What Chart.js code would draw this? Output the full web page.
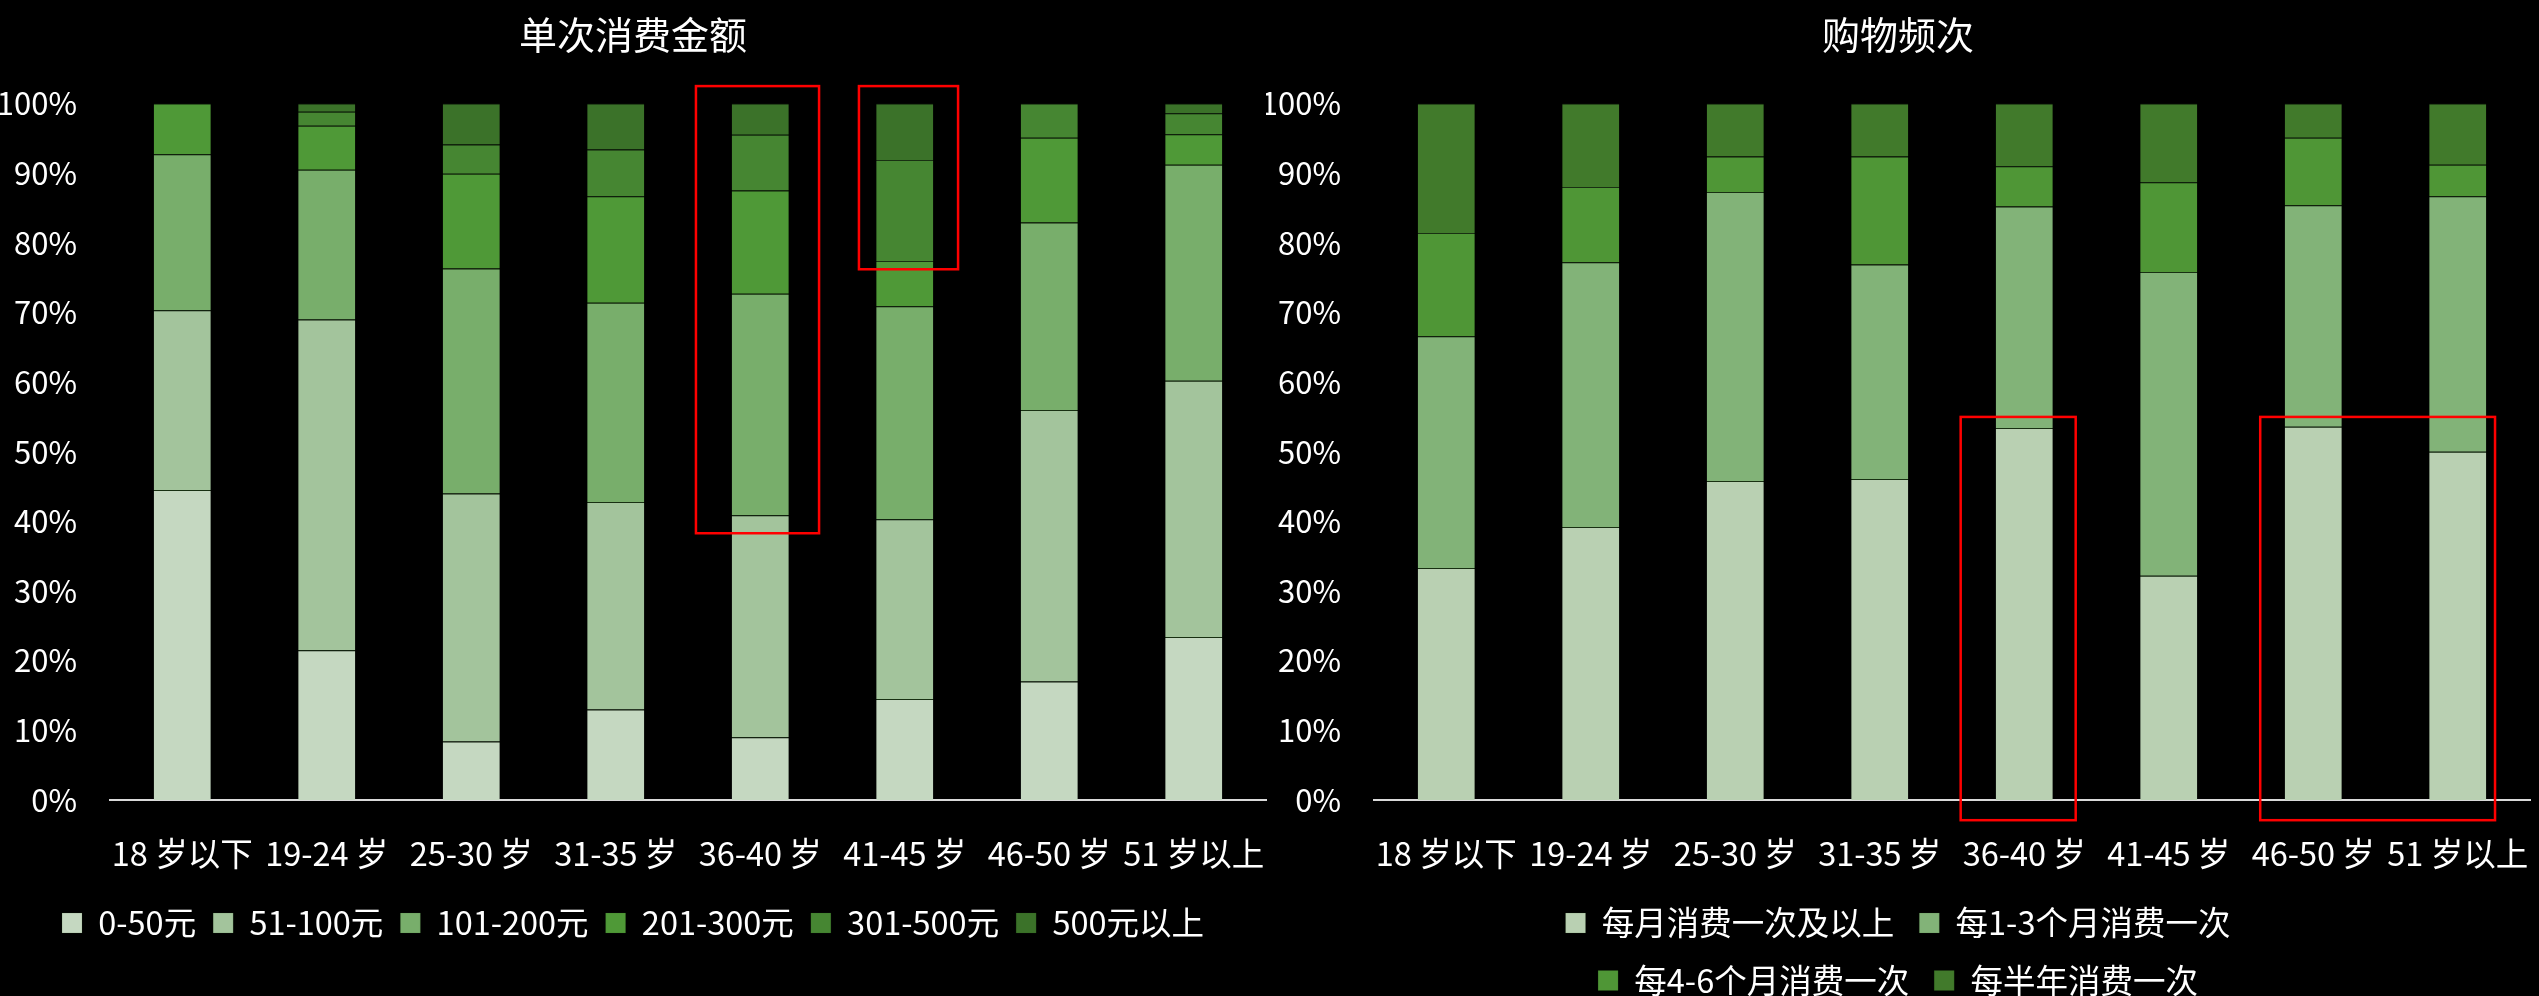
<!DOCTYPE html>
<html lang="zh-CN">
<head>
<meta charset="utf-8">
<title>单次消费金额 / 购物频次</title>
<script src="https://cdn.jsdelivr.net/npm/chart.js@4.4.1/dist/chart.umd.min.js"></script>
<style>
  html, body { margin: 0; background: #000; overflow: hidden; }
  canvas { position: absolute; top: 0; }
  #amountChart { left: 0; }
  #frequencyChart { left: 1266px; }
</style>
</head>
<body>
<canvas id="amountChart" width="1268" height="996"></canvas>
<canvas id="frequencyChart" width="1273" height="1010"></canvas>
<script>
const ageGroups = ["18 岁以下", "19-24 岁", "25-30 岁", "31-35 岁", "36-40 岁", "41-45 岁", "46-50 岁", "51 岁以上"]

// 单次消费金额, share of each age group (%)
const amountLabels = ["0-50元", "51-100元", "101-200元", "201-300元", "301-500元", "500元以上"]
const amount0to50 = [44.5, 21.5, 8.4, 13.0, 9.0, 14.5, 17.0, 23.4]
const amount51to100 = [25.8, 47.5, 35.6, 29.8, 31.9, 25.8, 39.0, 36.8]
const amount101to200 = [22.4, 21.5, 32.3, 28.6, 31.8, 30.6, 26.9, 31.0]
const amount201to300 = [7.3, 6.3, 13.6, 15.3, 14.8, 6.5, 12.2, 4.4]
const amount301to500 = [0, 2.0, 4.2, 6.7, 8.0, 14.5, 4.9, 3.0]
const amountOver500 = [0, 1.2, 5.9, 6.6, 4.5, 8.1, 0, 1.4]

// 购物频次, share of each age group (%)
const frequencyLabels = ["每月消费一次及以上", "每1-3个月消费一次", "每4-6个月消费一次", "每半年消费一次"]
const freqMonthly = [33.3, 39.2, 45.8, 46.1, 53.4, 32.2, 53.6, 50.0]
const freq1to3Months = [33.3, 38.0, 41.5, 30.8, 31.8, 43.6, 31.8, 36.7]
const freq4to6Months = [14.8, 10.8, 5.1, 15.5, 5.8, 12.9, 9.7, 4.5]
const freqHalfYear = [18.6, 12.0, 7.6, 7.6, 9.0, 11.3, 4.9, 8.8]

const percentTicks = [0, 10, 20, 30, 40, 50, 60, 70, 80, 90, 100]

const amountColors = ["#c5d8c1", "#a3c49c", "#78ae6b", "#4f9937", "#468632", "#3b7229"]
const frequencyColors = ["#b9d0b2", "#82b378", "#4f9636", "#417a2b"]

Chart.defaults.font.family = "'Noto Sans CJK SC', 'Noto Sans', sans-serif"
Chart.defaults.font.size = 31
Chart.defaults.color = "#ffffff"

// red outlines drawn over the bars, placed in category / value units
const highlightBoxes = {
  id: "highlightBoxes",
  afterDatasetsDraw(chart, args, opts) {
    const { ctx, scales: { x, y } } = chart
    const step = x.getPixelForValue(1) - x.getPixelForValue(0)
    ctx.save()
    ctx.strokeStyle = opts.color
    ctx.lineWidth = opts.lineWidth
    opts.boxes.forEach((b) => {
      const left = x.getPixelForValue(b.from) + b.inset[0] * step
      const right = x.getPixelForValue(b.to) + b.inset[1] * step
      const top = y.getPixelForValue(b.top)
      const bottom = y.getPixelForValue(b.bottom)
      ctx.strokeRect(left, top, right - left, bottom - top)
    })
    ctx.restore()
  },
}

// Excel wraps the frequency legend into two rows, Chart.js would keep one,
// so the legend is told it has less room than the canvas gives it
const narrowLegend = {
  id: "narrowLegend",
  beforeLayout(chart, args, opts) {
    const legend = chart.legend
    if (!legend || legend.narrowed) return
    const update = legend.update
    legend.update = function (w, h, m) {
      return update.call(this, Math.min(w, opts.maxWidth), h, m)
    }
    legend.narrowed = true
  },
}

function makeDatasets(labels, series, colors) {
  return series.map((data, i) => ({
    label: labels[i],
    data,
    backgroundColor: colors[i],
    borderColor: "rgba(40, 80, 30, 0.6)",
    borderWidth: { top: 1, right: 0, bottom: 0, left: 0 },
    borderSkipped: false,
    barPercentage: 0.395,
    categoryPercentage: 1,
  }))
}

function makeOptions({ title, yWidth, xHeight, padding, legendPadding, boxes, legendWidth }) {
  return {
    responsive: false,
    animation: false,
    events: [],
    layout: { padding },
    plugins: {
      title: {
        display: true,
        text: title,
        color: "#ffffff",
        font: { size: 38, weight: "normal" },
        padding: { top: 11.4, bottom: 46.5 },
      },
      legend: {
        position: "bottom",
        labels: {
          color: "#ffffff",
          boxWidth: 20,
          boxHeight: 20,
          padding: legendPadding,
          font: { size: 32.5 },
        },
      },
      tooltip: { enabled: false },
      highlightBoxes: { color: "#ff0000", lineWidth: 2.5, boxes },
      narrowLegend: { maxWidth: legendWidth },
    },
    scales: {
      x: {
        stacked: true,
        // invisible tick marks push the labels down without widening the axis padding
        grid: { display: true, drawOnChartArea: false, drawTicks: true, tickLength: 34, color: "rgba(0, 0, 0, 0)" },
        border: { display: true, color: "#d9d9d9", width: 2 },
        ticks: { color: "#ffffff", padding: 0, maxRotation: 0, autoSkip: false, font: { size: 32.5 } },
        afterFit: (axis) => { axis.height = xHeight },
      },
      y: {
        stacked: true,
        min: 0,
        max: 100,
        grid: { display: false, drawTicks: false },
        border: { display: false },
        afterBuildTicks: (axis) => { axis.ticks = percentTicks.map((value) => ({ value })) },
        ticks: { color: "#ffffff", padding: 33, callback: (value) => value + "%" },
        afterFit: (axis) => { axis.width = yWidth },
      },
    },
  }
}

new Chart(document.getElementById("amountChart"), {
  type: "bar",
  data: {
    labels: ageGroups,
    datasets: makeDatasets(
      amountLabels,
      [amount0to50, amount51to100, amount101to200, amount201to300, amount301to500, amountOver500],
      amountColors
    ),
  },
  options: makeOptions({
    title: "单次消费金额",
    yWidth: 110,
    xHeight: 89.75,
    padding: { top: 0, right: 2, bottom: 46.75, left: 0 },
    legendPadding: 17,
    legendWidth: 2000,
    boxes: [
      { from: 4, to: 4, inset: [-0.445, 0.407], top: 102.5, bottom: 38.3 },
      { from: 5, to: 5, inset: [-0.317, 0.369], top: 102.5, bottom: 76.2 },
    ],
  }),
  plugins: [highlightBoxes],
})

new Chart(document.getElementById("frequencyChart"), {
  type: "bar",
  data: {
    labels: ageGroups,
    datasets: makeDatasets(
      frequencyLabels,
      [freqMonthly, freq1to3Months, freq4to6Months, freqHalfYear],
      frequencyColors
    ),
  },
  options: makeOptions({
    title: "购物频次",
    yWidth: 108,
    xHeight: 81.75,
    padding: { top: 0, right: 9, bottom: 3.25, left: 0 },
    legendPadding: 25,
    legendWidth: 900,
    boxes: [
      { from: 4, to: 4, inset: [-0.44, 0.356], top: 55, bottom: -2.9 },
      { from: 6, to: 7, inset: [-0.367, 0.258], top: 55, bottom: -2.9 },
    ],
  }),
  plugins: [highlightBoxes, narrowLegend],
})
</script>
</body>
</html>
